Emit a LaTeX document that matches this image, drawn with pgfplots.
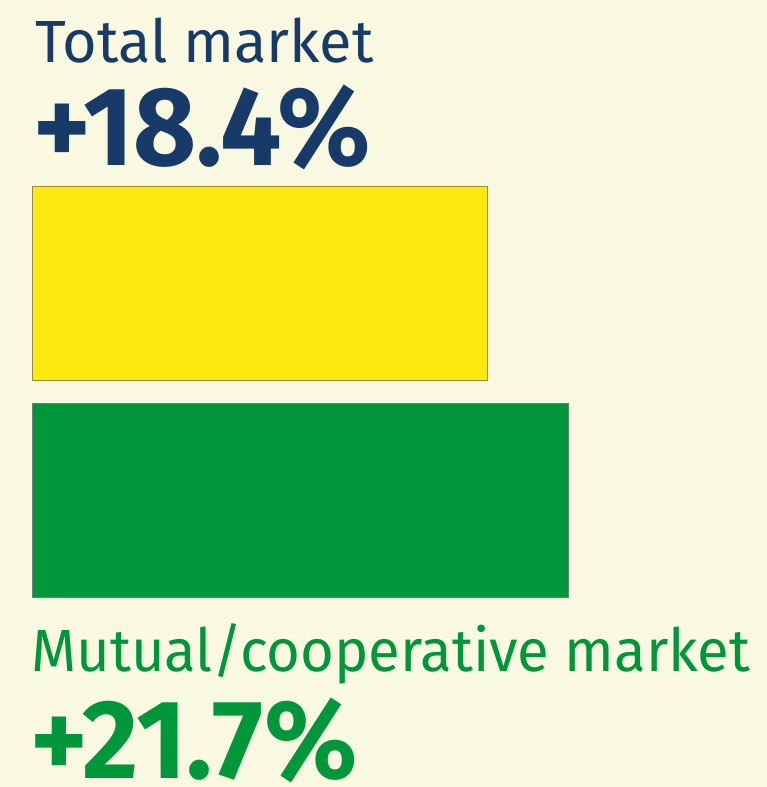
\documentclass[border=0pt]{standalone}
\usepackage{pgfplots}
\pgfplotsset{compat=1.18}
\usepackage{fontspec}
\setmainfont{Fira Sans}
\newfontfamily\condfont[FakeStretch=0.975]{Fira Sans}
\newfontfamily\numfont[FakeStretch=0.97]{Fira Sans Bold}
\definecolor{bgc}{HTML}{F8F9E0}
\definecolor{navy}{HTML}{173A69}
\definecolor{grn}{HTML}{00963A}
\definecolor{ylw}{HTML}{FDE910}
\begin{document}
\begin{tikzpicture}
\fill[bgc] (0,0) rectangle (767bp,-787bp);
\useasboundingbox (0,0) rectangle (767bp,-787bp);
\begin{axis}[
  at={(32bp,-597bp)}, anchor=south west,
  scale only axis, width=735bp, height=411bp,
  xmin=0, xmax=29.709, ymin=-0.447, ymax=1.447,
  axis lines=none, ticks=none, clip=false,
  xbar, bar width=194bp, bar shift=0pt,
]
\addplot[fill=ylw, draw=black!35!ylw!60!gray, line width=1bp] coordinates {(18.4,1)};
\addplot[fill=grn, draw=gray!80!grn, line width=1bp] coordinates {(21.7,0)};
\end{axis}
\node[anchor=base west, inner sep=0, text=navy, font=\fontsize{59.5bp}{60bp}\selectfont] at (35bp,-62bp) {Total market};
\node[anchor=base west, inner sep=0, text=navy, font=\fontsize{112bp}{112bp}\numfont] at (33bp,-165bp) {+18.4\%};
\node[anchor=base west, inner sep=0, text=grn, font=\fontsize{59.5bp}{60bp}\condfont] at (31bp,-671bp) {Mutual/cooperative market};
\node[anchor=base west, inner sep=0, text=grn, font=\fontsize{112bp}{112bp}\numfont] at (30bp,-778bp) {+21.7\%};
\end{tikzpicture}
\end{document}
